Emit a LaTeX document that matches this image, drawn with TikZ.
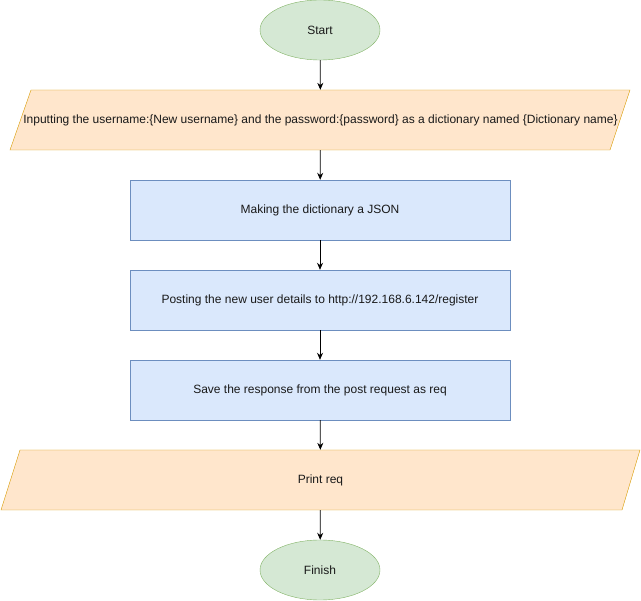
\documentclass[tikz,border=0pt]{standalone}
\usepackage{fontspec}
\setmainfont{Liberation Sans}
\usetikzlibrary{shapes.geometric,arrows.meta,backgrounds}
\definecolor{gfill}{HTML}{D5E8D4}
\definecolor{gline}{HTML}{82B366}
\definecolor{ofill}{HTML}{FFE6CC}
\definecolor{oline}{HTML}{D79B00}
\definecolor{bfill}{HTML}{DAE8FC}
\definecolor{bline}{HTML}{6C8EBF}
\tikzset{
  x=1pt,y=-1pt,
  every node/.style={font=\fontsize{12}{14}\selectfont, text=black!90},
  term/.style={ellipse, draw=gline, fill=gfill, minimum width=120pt, minimum height=60pt, inner sep=0pt},
  procbox/.style={rectangle, draw=bline, fill=bfill, minimum width=380pt, minimum height=60pt, inner sep=0pt},
  iotext/.style={rectangle, minimum height=60pt, inner sep=0pt},
  iopoly/.style={draw=oline, fill=ofill},
  conn/.style={-{Stealth[length=7pt,width=6pt]}, draw=black, line width=0.8pt}
}
\begin{document}
\begin{tikzpicture}
\useasboundingbox (0,0) rectangle (641,601);
\node[term] (start) at (320,30) {Start};
\node[iotext, minimum width=600pt] (in) at (320.5,120) {Inputting the username:\{New username\} and the password:\{password\} as a dictionary named \{Dictionary name\}};
\node[procbox] (json) at (320,210) {Making the dictionary a JSON};
\node[procbox] (post) at (320,300) {Posting the new user details to http://192.168.6.142/register};
\node[procbox] (save) at (320,390) {Save the response from the post request as req};
\node[iotext, minimum width=600pt] (print) at (320.5,480) {Print req};
\node[term] (finish) at (320,570) {Finish};
\begin{scope}[on background layer]
  \path[iopoly] (31,90) -- (630,90) -- (610,150) -- (10,150) -- cycle;
  \path[iopoly] (20,450) -- (640,450) -- (622,510) -- (1,510) -- cycle;
\end{scope}
\draw[conn] (start) -- (in);
\draw[conn] (in) -- (json);
\draw[conn] (json) -- (post);
\draw[conn] (post) -- (save);
\draw[conn] (save) -- (print);
\draw[conn] (print) -- (finish);
\end{tikzpicture}
\end{document}
